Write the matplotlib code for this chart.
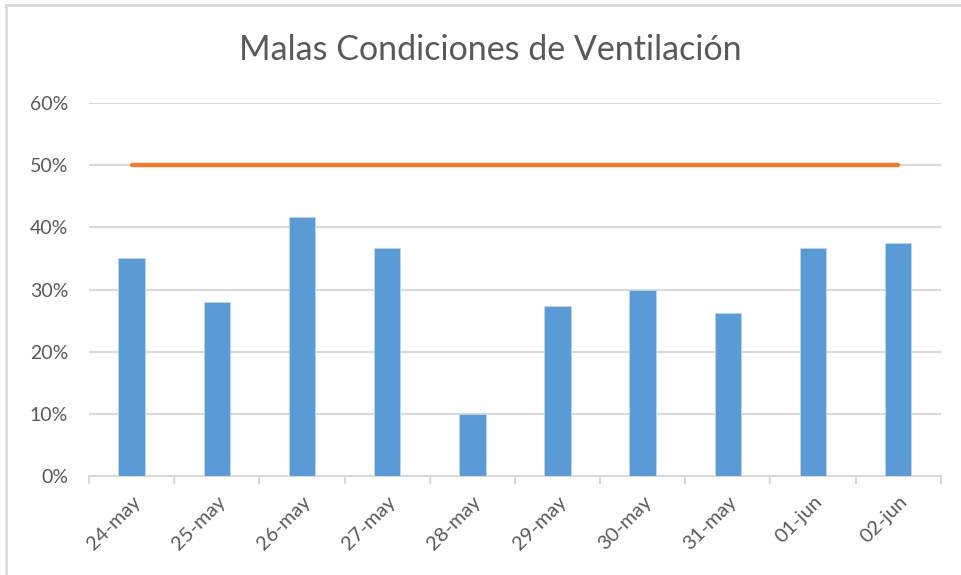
import matplotlib
matplotlib.use('Agg')
import matplotlib.pyplot as plt
from matplotlib.lines import Line2D
from matplotlib.ticker import PercentFormatter

# ----------------------------------------------------------------------
# DATA
# ----------------------------------------------------------------------
days = ['24-may', '25-may', '26-may', '27-may', '28-may',
        '29-may', '30-may', '31-may', '01-jun', '02-jun']
values = [0.350, 0.280, 0.416, 0.367, 0.100,
          0.274, 0.299, 0.263, 0.367, 0.375]
threshold = [0.50] * len(days)
y_ticks = [0.0, 0.1, 0.2, 0.3, 0.4, 0.5, 0.6]
# ----------------------------------------------------------------------

BLUE = '#5B9BD5'
ORANGE = '#ED7D31'
GRID = '#D9D9D9'
TEXT = '#595959'

plt.rcParams['font.family'] = ['Lato', 'DejaVu Sans']

fig = plt.figure(figsize=(9.61, 5.75), dpi=100)
ax = fig.add_axes([0.0926, 0.172, 0.979 - 0.0926, 0.821 - 0.172])

x = list(range(len(days)))
ax.bar(x, values, width=0.31, color=BLUE, edgecolor='#BDD7EE', linewidth=0.6, zorder=3)
ax.plot(x, threshold, color=ORANGE, linewidth=3.2, solid_capstyle='round', zorder=4)

ax.set_xlim(-0.5, len(days) - 0.5)
ax.set_ylim(0, 0.6)
ax.set_yticks(y_ticks)
ax.yaxis.set_major_formatter(PercentFormatter(1.0, decimals=0))
ax.grid(axis='y', color=GRID, linewidth=1.5, zorder=0)
ax.tick_params(axis='y', length=0, labelsize=14, labelcolor=TEXT, pad=15)

ax.set_xticks(x)
ax.set_xticklabels(days, rotation=45, ha='right', rotation_mode='anchor')
ax.tick_params(axis='x', which='major', length=0, labelsize=14.5, labelcolor=TEXT, pad=12)
ax.set_xticks([i - 0.5 for i in range(len(days) + 1)], minor=True)
ax.tick_params(axis='x', which='minor', length=6, width=1.5, color=GRID)

for side in ['top', 'right', 'left']:
    ax.spines[side].set_visible(False)
ax.spines['bottom'].set_color(GRID)
ax.spines['bottom'].set_linewidth(1.5)

fig.text(0.51, 0.913, 'Malas Condiciones de Ventilación', ha='center', va='center',
         fontsize=24.5, color=TEXT)

# chart border (only top and left edges visible in the reference)
fig.add_artist(Line2D([0.0065, 1.0], [0.992, 0.992], transform=fig.transFigure,
                      color='#D9D9D9', linewidth=2))
fig.add_artist(Line2D([0.0065, 0.0065], [0.0, 0.992], transform=fig.transFigure,
                      color='#D9D9D9', linewidth=2))

fig.savefig('out.png', dpi=100)
